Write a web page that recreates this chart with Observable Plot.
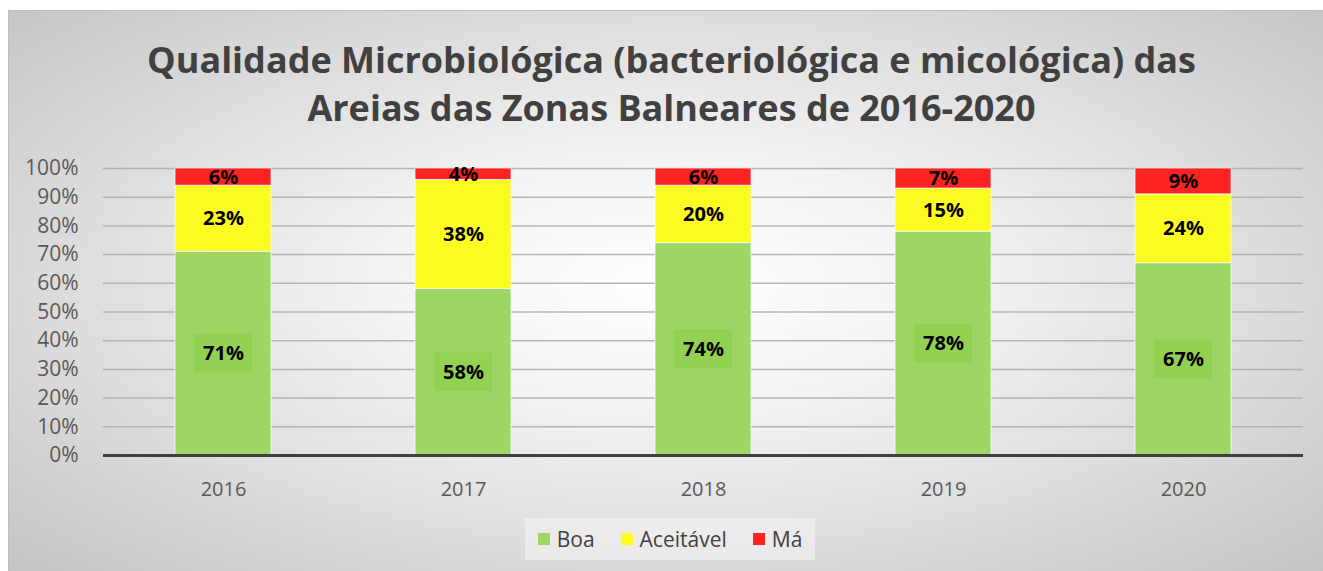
<!DOCTYPE html>
<html>
<head>
<meta charset="utf-8">
<script src="https://cdn.jsdelivr.net/npm/d3@7"></script>
<script src="https://cdn.jsdelivr.net/npm/@observablehq/plot@0.6"></script>
<style>
  html, body { margin: 0; padding: 0; background: #ffffff; }
  #page { position: relative; width: 1323px; height: 571px; overflow: hidden; font-family: "Open Sans", sans-serif; }
  #frame { position: absolute; left: 8px; top: 10px; width: 1320px; height: 570px; box-sizing: border-box;
    border: 1px solid #bdbdbd;
    background: radial-gradient(ellipse farthest-corner at 50% 48%, #ffffff 0%, #f3f3f3 30%, #dcdcdc 65%, #c3c3c3 100%); }
  #title { position: absolute; left: 10px; width: 1323px; top: 36px; text-align: center; font-weight: 700; font-size: 36px;
    line-height: 48px; color: #404040; letter-spacing: 0px; }
  #chart { position: absolute; left: 0; top: 150px; }
  #legend { position: absolute; left: 525px; top: 518px; width: 290px; height: 42px; background: rgba(250,250,250,0.45);
    display: flex; align-items: center; justify-content: center; gap: 0; font-size: 21px; color: #404040; }
  .item { display: flex; align-items: center; margin: 0 13px; }
  .sw { width: 12px; height: 12px; margin-right: 7px; }
</style>
</head>
<body>
<div id="page">
  <div id="frame"></div>
  <div id="title">Qualidade Microbiológica (bacteriológica e micológica) das<br>Areias das Zonas Balneares de 2016-2020</div>
  <div id="chart"></div>
  <div id="legend"></div>
</div>
<script>
const years = ["2016", "2017", "2018", "2019", "2020"];
const boa = [71, 58, 74, 78, 67];
const aceitavel = [23, 38, 20, 15, 24];
const ma = [6, 4, 6, 7, 9];
const categories = ["Boa", "Aceitável", "Má"];
const colors = ["#9dd664", "#fbfb22", "#ff2222"];
const yTicks = [0, 10, 20, 30, 40, 50, 60, 70, 80, 90, 100];

const series = [boa, aceitavel, ma];
const rows = [];
years.forEach((yr, i) => {
  categories.forEach((c, j) => rows.push({year: yr, cat: c, value: series[j][i]}));
});
const boaRows = rows.filter(d => d.cat === "Boa");

const chart = Plot.plot({
  width: 1323,
  height: 360,
  marginLeft: 103,
  marginRight: 20,
  marginTop: 18,
  marginBottom: 55,
  style: {fontFamily: "Open Sans, sans-serif", fontSize: "20px", color: "#595959", background: "transparent", overflow: "visible"},
  x: {domain: years, paddingInner: 0.6, paddingOuter: 0.3, label: null},
  y: {domain: [0, 100], label: null},
  color: {domain: categories, range: colors},
  marks: [
    Plot.ruleY(yTicks.filter(t => t > 0), {stroke: "#b4b4b4", strokeWidth: 1.5}),
    Plot.axisY({ticks: yTicks, tickFormat: d => d + "%", tickSize: 0, tickPadding: 25, label: null, fontSize: 21}),
    Plot.axisX({tickSize: 0, tickPadding: 26, label: null, fontSize: 20}),
    Plot.barY(rows, {x: "year", y: "value", z: "cat", fill: "cat", stroke: "#ffffff", strokeOpacity: 0.7, strokeWidth: 1}),
    Plot.barY(boaRows, {x: "year", y1: d => d.value / 2 - 6.7, y2: d => d.value / 2 + 6.7, fill: "#92d050", fillOpacity: 0.9, insetLeft: 19, insetRight: 19}),
    Plot.text(rows, Plot.stackY({x: "year", y: "value", z: "cat", text: d => d.value + "%", fill: "#000000", fontWeight: "bold", fontSize: 20})),
    Plot.ruleY([0], {stroke: "#404040", strokeWidth: 3})
  ]
});
document.getElementById("chart").appendChild(chart);

const legend = document.getElementById("legend");
categories.forEach((c, i) => {
  const it = document.createElement("div");
  it.className = "item";
  const sw = document.createElement("div");
  sw.className = "sw";
  sw.style.background = colors[i];
  it.appendChild(sw);
  const t = document.createElement("span");
  t.textContent = c;
  it.appendChild(t);
  legend.appendChild(it);
});
</script>
</body>
</html>
